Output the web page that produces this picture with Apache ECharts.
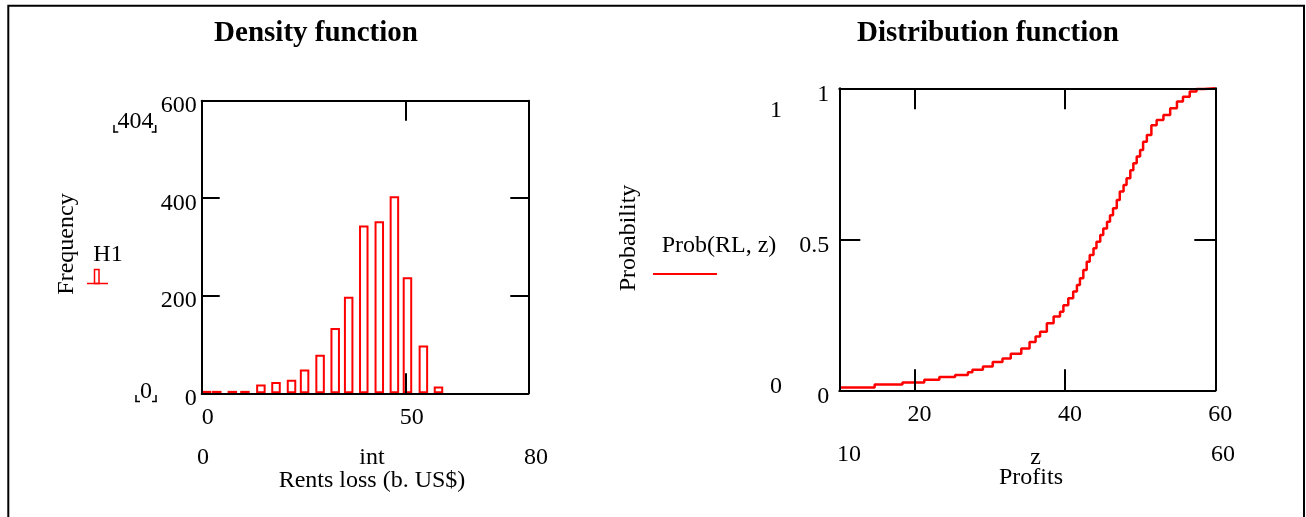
<!DOCTYPE html>
<html>
<head>
<meta charset="utf-8">
<script src="https://cdn.jsdelivr.net/npm/echarts@6/dist/echarts.min.js"></script>
<style>
html,body{margin:0;padding:0;background:#fff;}
#c{width:1306px;height:517px;}
</style>
</head>
<body>
<div id="c"></div>
<script>
// ---- Density function (histogram H1 of rents loss) ----
const binCenters = [1.2, 3.7, 7.5, 10.6, 14.5, 18.2, 22, 25.2, 29, 32.7, 36, 39.7, 43.5, 47.2, 50.4, 54.3, 58];
const binCounts  = [5, 5, 5, 5, 18, 23, 28, 49, 79, 134, 198, 344, 353, 404, 238, 98, 14];
const freqTicks  = [0, 200, 400, 600];
const rentTicks  = [0, 50];

// ---- Distribution function (empirical CDF Prob(RL, z)), step start points ----
const cdfZ = [10, 14.7, 18.4, 21.3, 23.3, 25.4, 27.1, 27.7, 29.1, 30.4, 31.7, 32.8, 34.2, 35.3, 36.1, 36.7,
              37.6, 38.5, 39.35, 39.8, 40.45, 41.1, 41.6, 42.0, 42.45, 42.9, 43.3, 43.8, 44.2, 44.7, 45.1,
              45.6, 46.0, 46.4, 46.9, 47.3, 47.8, 48.2, 48.7, 49.1, 49.55, 50.0, 50.4, 50.9, 51.5, 52.2,
              53.1, 54.0, 54.9, 55.7, 56.6, 57.5, 58.5, 60];
const cdfP = [0.009, 0.019, 0.026, 0.035, 0.044, 0.051, 0.060, 0.068, 0.079, 0.094, 0.105, 0.121, 0.138, 0.160, 0.178, 0.194,
              0.222, 0.244, 0.260, 0.282, 0.305, 0.327, 0.349, 0.371, 0.398, 0.426, 0.448, 0.470, 0.492, 0.514, 0.536,
              0.558, 0.580, 0.603, 0.630, 0.658, 0.680, 0.702, 0.729, 0.752, 0.774, 0.796, 0.823, 0.845, 0.878, 0.895,
              0.912, 0.934, 0.956, 0.972, 0.989, 0.998, 1.0, 1.0];
const probTicks   = [0, 0.5, 1];
const profitTicks = [20, 40, 60];

const FONT = '"Liberation Serif", "Times New Roman", serif';
const RED = '#ff0000';

function frame(o, tickLen, ticks, labelCfg) {
  return Object.assign({
    type: 'value',
    z: 5,
    splitLine: { show: false },
    axisLine: { show: true, onZero: false, lineStyle: { color: '#000', width: 2 } },
    axisTick: Object.assign({ show: true, inside: true, length: tickLen, lineStyle: { color: '#000', width: 2 } },
                            ticks ? { customValues: ticks } : {}),
    axisLabel: labelCfg ? Object.assign({ show: true, color: '#000', fontFamily: FONT, fontSize: 24 }, labelCfg)
                        : { show: false }
  }, o);
}

function txt(text, x, y, opts) {
  opts = opts || {};
  const font = (opts.bold ? 'bold ' : '') + (opts.size || 24) + 'px ' + FONT;
  return {
    type: 'text', x: x, y: y, rotation: opts.rot || 0, z: 10,
    style: {
      text: text, font: font, fill: opts.color || '#000',
      align: opts.align || 'center', verticalAlign: 'middle',
      textAlign: opts.align || 'center', textVerticalAlign: 'middle'
    }
  };
}
function seg(x1, y1, x2, y2, color, w) {
  return { type: 'line', z: 10, shape: { x1: x1, y1: y1, x2: x2, y2: y2 },
           style: { stroke: color || '#000', lineWidth: w || 1.5 } };
}

const chart = echarts.init(document.getElementById('c'), null, { renderer: 'canvas' });

const option = {
  backgroundColor: '#fff',
  animation: false,
  grid: [
    { left: 201.7, top: 100.7, width: 326.6, height: 292.6 },
    { left: 839.3, top: 88.3, width: 376, height: 302 }
  ],
  xAxis: [
    frame({ gridIndex: 0, position: 'bottom', min: 0, max: 80 }, 20, rentTicks,
          { customValues: rentTicks, margin: 12, padding: [0, 0, 0, 12] }),
    frame({ gridIndex: 0, position: 'top', min: 0, max: 80 }, 20, [50], null),
    frame({ gridIndex: 1, position: 'bottom', min: 10, max: 60 }, 21, profitTicks,
          { customValues: profitTicks, margin: 12, padding: [0, 0, 0, 10] }),
    frame({ gridIndex: 1, position: 'top', min: 10, max: 60 }, 21, profitTicks, null)
  ],
  yAxis: [
    frame({ gridIndex: 0, position: 'left', min: 0, max: 600, interval: 200 }, 18, null,
          { margin: 5, verticalAlign: 'top', lineHeight: 10 }),
    frame({ gridIndex: 0, position: 'right', min: 0, max: 600, interval: 200 }, 18, null, null),
    frame({ gridIndex: 1, position: 'left', min: 0, max: 1, interval: 0.5 }, 21, null,
          { margin: 10, verticalAlign: 'top', lineHeight: 12 }),
    frame({ gridIndex: 1, position: 'right', min: 0, max: 1, interval: 0.5 }, 21, null, null)
  ],
  series: [
    {
      name: 'H1', type: 'bar', xAxisIndex: 0, yAxisIndex: 0,
      data: binCenters.map((c, i) => [c, binCounts[i]]),
      barWidth: 9.5,
      itemStyle: { color: '#fff', borderColor: RED, borderWidth: 2 },
      z: 2
    },
    {
      name: 'Prob(RL, z)', type: 'line', xAxisIndex: 2, yAxisIndex: 2,
      data: cdfZ.map((z, i) => [z, cdfP[i]]),
      step: 'end', showSymbol: false, symbol: 'none',
      lineStyle: { color: RED, width: 2.5 },
      z: 2
    }
  ],
  graphic: {
    elements: [
      { type: 'rect', z: 0, shape: { x: 8.3, y: 5.7, width: 1295.7, height: 530 },
        style: { fill: 'none', stroke: '#000', lineWidth: 2 } },
      // titles
      txt('Density function', 316, 34, { bold: true, size: 29 }),
      txt('Distribution function', 988, 34, { bold: true, size: 29 }),
      // left chart annotations
      txt('Frequency', 67, 244, { rot: Math.PI / 2 }),
      txt('H1', 108, 255),
      { type: 'rect', z: 10, shape: { x: 94.5, y: 269.5, width: 4.5, height: 14 },
        style: { fill: 'none', stroke: RED, lineWidth: 1.5 } },
      seg(87, 283.5, 108, 283.5, RED, 1.5),
      txt('404', 135.5, 122),
      seg(114, 125, 114, 132.5), seg(113.3, 132, 118.3, 132),
      seg(155.7, 125, 155.7, 132.5), seg(151.7, 132, 156.4, 132),
      txt('0', 146, 392),
      seg(136, 395, 136, 402), seg(135.3, 401.5, 140, 401.5),
      seg(156, 395, 156, 402), seg(152, 401.5, 156.7, 401.5),
      txt('0', 203, 457.5),
      txt('int', 372, 457.5),
      txt('80', 536, 457.5),
      txt('Rents loss (b. US$)', 372, 481),
      // right chart annotations
      txt('Probability', 629, 238, { rot: Math.PI / 2 }),
      txt('Prob(RL, z)', 719, 246),
      seg(653, 274, 717, 274, RED, 2),
      txt('1', 776, 110.5),
      txt('0', 776, 387),
      txt('10', 849, 455),
      txt('z', 1035.5, 457.5),
      txt('60', 1223, 455),
      txt('Profits', 1031, 478)
    ]
  }
};
chart.setOption(option);
</script>
</body>
</html>
